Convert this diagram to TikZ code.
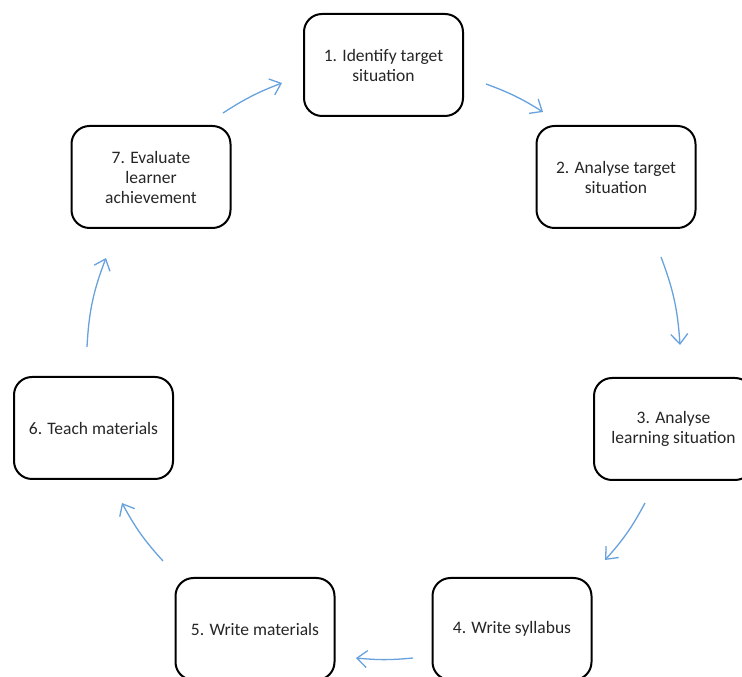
\documentclass[tikz,border=0pt]{standalone}
\usepackage{fontspec}
\setmainfont{Carlito}
\usetikzlibrary{arrows.meta}
\definecolor{arrowblue}{RGB}{104,162,222}
\tikzset{
  stage/.style={draw=black, line width=2pt, rounded corners=18pt, fill=white,
    minimum width=159pt, minimum height=102pt, align=center,
    font=\fontsize{17.5}{20}\selectfont, text=black!85},
  cycle/.style={draw=arrowblue, line width=1.3pt,
    -{Straight Barb[length=10pt, width=17pt, line width=1.3pt]}}
}
\begin{document}
\begin{tikzpicture}[x=1pt, y=1pt]
      \useasboundingbox (0,0) rectangle (742,677);
      \draw
        (383.5,612) node[stage] (1){1. Identify target\\situation}
        (616,500) node[stage] (2){2. Analyse target\\situation}
        (673.5,248) node[stage] (3){3. Analyse\\learning situation}
        (512,48) node[stage] (4){4. Write syllabus}
        (255,48) node[stage] (5){5. Write materials}
        (93.5,249) node[stage] (6){6. Teach materials}
        (151,500) node[stage] (7){7. Evaluate\\learner\\achievement};
      \path
        (486,593) coordinate (1a)  (543,565) coordinate (1b)
        (661,420) coordinate (2a)  (680,332) coordinate (2b)
        (645,174) coordinate (3a)  (605,117) coordinate (3b)
        (413,19) coordinate (4a)   (356,19) coordinate (4b)
        (163,116) coordinate (5a)  (122,174) coordinate (5b)
        (87,330) coordinate (6a)   (106,419) coordinate (6b)
        (223,564) coordinate (7a)  (282,594) coordinate (7b);
      \begin{scope}[cycle]
        \draw (1a) to[bend left=6] (1b);
        \draw (2a) to[bend left=8.5] (2b);
        \draw (3a) to[bend left=7] (3b);
        \draw (4a) to[bend left=5.5] (4b);
        \draw (5a) to[bend left=7] (5b);
        \draw (6a) to[bend left=9] (6b);
        \draw (7a) to[bend left=6] (7b);
      \end{scope}
    \end{tikzpicture}
\end{document}
